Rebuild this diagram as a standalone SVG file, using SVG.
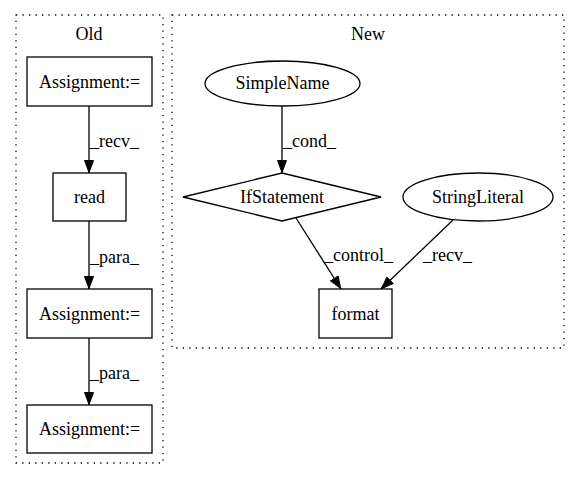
<svg xmlns="http://www.w3.org/2000/svg" width="580" height="480" viewBox="0 0 580 480">
<style>
text{font-family:"Liberation Serif","Times New Roman",serif;font-size:18px;fill:#000}
.c{text-anchor:middle}
.cl{fill:none;stroke:#000;stroke-width:1.3;stroke-dasharray:1.3,5.2}
.n{fill:none;stroke:#000;stroke-width:1.3}
.e{fill:none;stroke:#000;stroke-width:1.3}
</style>
<defs>
<marker id="a" viewBox="0 0 13 10" refX="13" refY="5" markerWidth="13" markerHeight="10" markerUnits="userSpaceOnUse" orient="auto">
<path d="M0.5,0.5 L12.5,5 L0.5,9.5 Z" fill="#000" stroke="#000" stroke-width="1"/>
</marker>
</defs>
<rect width="580" height="480" fill="#fff"/>
<g id="cluster_old">
<rect class="cl" x="16" y="15" width="147" height="448"/>
<text class="c" x="89" y="40">Old</text>
</g>
<g id="cluster_new">
<rect class="cl" x="172" y="15" width="392" height="333"/>
<text class="c" x="368" y="40">New</text>
</g>
<g id="old_assign1">
<rect class="n" x="27" y="57" width="125" height="49"/>
<text class="c" x="89.5" y="88">Assignment:=</text>
</g>
<g id="old_read">
<rect class="n" x="53" y="173" width="73" height="48"/>
<text class="c" x="89.5" y="203">read</text>
</g>
<g id="old_assign2">
<rect class="n" x="27" y="289" width="125" height="49"/>
<text class="c" x="89.5" y="320">Assignment:=</text>
</g>
<g id="old_assign3">
<rect class="n" x="27" y="405" width="125" height="48"/>
<text class="c" x="89.5" y="435">Assignment:=</text>
</g>
<g id="new_simplename">
<ellipse class="n" cx="282.5" cy="83.5" rx="77.5" ry="22.5"/>
<text class="c" x="282.5" y="89">SimpleName</text>
</g>
<g id="new_ifstatement">
<polygon class="n" points="282,173 381,197 282,221 183,197"/>
<text class="c" x="282" y="203">IfStatement</text>
</g>
<g id="new_stringliteral">
<ellipse class="n" cx="478" cy="197" rx="75" ry="24"/>
<text class="c" x="478" y="203">StringLiteral</text>
</g>
<g id="new_format">
<rect class="n" x="319" y="289" width="73" height="49"/>
<text class="c" x="355.5" y="320">format</text>
</g>
<g id="connectors">
<line class="e" x1="89" y1="106" x2="89" y2="173" marker-end="url(#a)"/>
<text x="90" y="147">_recv_</text>
<line class="e" x1="89" y1="221" x2="89" y2="289" marker-end="url(#a)"/>
<text x="90" y="263">_para_</text>
<line class="e" x1="89" y1="338" x2="89" y2="405" marker-end="url(#a)"/>
<text x="90" y="379">_para_</text>
<line class="e" x1="282" y1="106" x2="282" y2="173" marker-end="url(#a)"/>
<text x="283" y="147">_cond_</text>
<line class="e" x1="296" y1="218" x2="341" y2="289" marker-end="url(#a)"/>
<text x="324" y="261">_control_</text>
<line class="e" x1="453" y1="220" x2="381" y2="289" marker-end="url(#a)"/>
<text x="423" y="261">_recv_</text>
</g>
</svg>
